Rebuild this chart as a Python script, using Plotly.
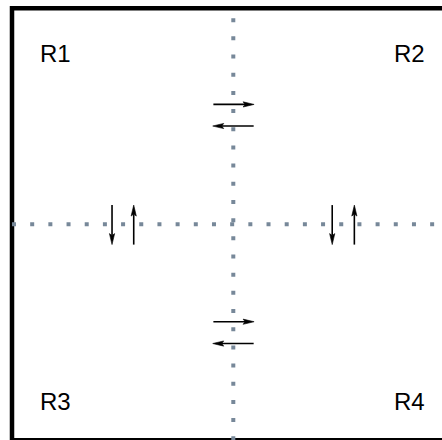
import math
import plotly.graph_objects as go

# ---- data (logical coordinates: the framed box spans -1..1 on both axes) ----
region_labels = ["R1", "R2", "R3", "R4"]
label_x = [-0.805, 0.795, -0.805, 0.795]
label_y = [0.792, 0.792, -0.821, -0.821]

# arrows: start (x0, y0) -> end (x1, y1)
arrow_x0 = [-0.090, 0.092, -0.090, 0.092, -0.548, -0.450, 0.447, 0.547]
arrow_y0 = [0.555, 0.455, -0.451, -0.552, 0.089, -0.094, 0.089, -0.094]
arrow_x1 = [0.094, -0.093, 0.094, -0.093, -0.548, -0.450, 0.447, 0.547]
arrow_y1 = [0.555, 0.455, -0.451, -0.552, -0.094, 0.089, -0.094, 0.089]

divider_x = [0.0]   # vertical dotted divider
divider_y = [0.0]   # horizontal dotted divider

# ---- view geometry ----
W, H = 442, 440
SX, SY = 221.3, 216.0          # pixels per logical unit
CX, CY = 233.3, 224.3          # pixel position of logical origin (from top-left)
x_range = [(0 - CX) / SX, (W - CX) / SX]
y_range = [(CY - H) / SY, (CY - 0) / SY]

HEAD_LEN, HEAD_HALF, HEAD_NOTCH = 11.0, 2.6, 2.0

shaft_x, shaft_y, head_x, head_y = [], [], [], []
for x0, y0, x1, y1 in zip(arrow_x0, arrow_y0, arrow_x1, arrow_y1):
    dxp, dyp = (x1 - x0) * SX, (y1 - y0) * SY
    L = math.hypot(dxp, dyp)
    ux, uy = dxp / L, dyp / L
    nx, ny = -uy, ux
    tip = (x1 * SX, y1 * SY)
    base = (tip[0] - HEAD_LEN * ux, tip[1] - HEAD_LEN * uy)
    notch = (tip[0] - (HEAD_LEN - HEAD_NOTCH) * ux, tip[1] - (HEAD_LEN - HEAD_NOTCH) * uy)
    p1 = (base[0] + HEAD_HALF * nx, base[1] + HEAD_HALF * ny)
    p2 = (base[0] - HEAD_HALF * nx, base[1] - HEAD_HALF * ny)
    shaft_x += [x0, notch[0] / SX, None]
    shaft_y += [y0, notch[1] / SY, None]
    for p in (tip, p1, notch, p2, tip):
        head_x.append(p[0] / SX)
        head_y.append(p[1] / SY)
    head_x.append(None)
    head_y.append(None)

fig = go.Figure()
fig.add_trace(go.Scatter(x=shaft_x, y=shaft_y, mode="lines",
                         line=dict(color="black", width=1.6),
                         hoverinfo="skip", showlegend=False))
fig.add_trace(go.Scatter(x=head_x, y=head_y, mode="lines", fill="toself",
                         fillcolor="black", line=dict(color="black", width=0.6),
                         hoverinfo="skip", showlegend=False))

shapes = [
    dict(type="rect", xref="x", yref="y", x0=-1, y0=-1, x1=1, y1=1,
         line=dict(color="black", width=4.5), layer="below"),
]
for vx in divider_x:
    shapes.append(dict(type="line", xref="x", yref="y", x0=vx, y0=-1, x1=vx, y1=1,
                       line=dict(color="#778899", width=4, dash="4px,14.18px"),
                       layer="below"))
for hy in divider_y:
    shapes.append(dict(type="line", xref="x", yref="y", x0=-1, y0=hy, x1=1, y1=hy,
                       line=dict(color="#778899", width=4, dash="4px,14.18px"),
                       layer="below"))

annotations = [
    dict(x=lx, y=ly, xref="x", yref="y", text=t, showarrow=False,
         font=dict(family="Liberation Sans, Arial, sans-serif", size=24, color="black"),
         xanchor="center", yanchor="middle")
    for t, lx, ly in zip(region_labels, label_x, label_y)
]

fig.update_layout(
    width=W, height=H,
    margin=dict(l=0, r=0, t=0, b=0, pad=0),
    paper_bgcolor="white", plot_bgcolor="white",
    xaxis=dict(range=x_range, visible=False, fixedrange=True),
    yaxis=dict(range=y_range, visible=False, fixedrange=True),
    shapes=shapes, annotations=annotations,
    showlegend=False,
)
fig.write_html(
    "out.html",
    config={"displayModeBar": False},
    post_script="document.body.style.margin='0';document.body.style.overflow='hidden';",
)
